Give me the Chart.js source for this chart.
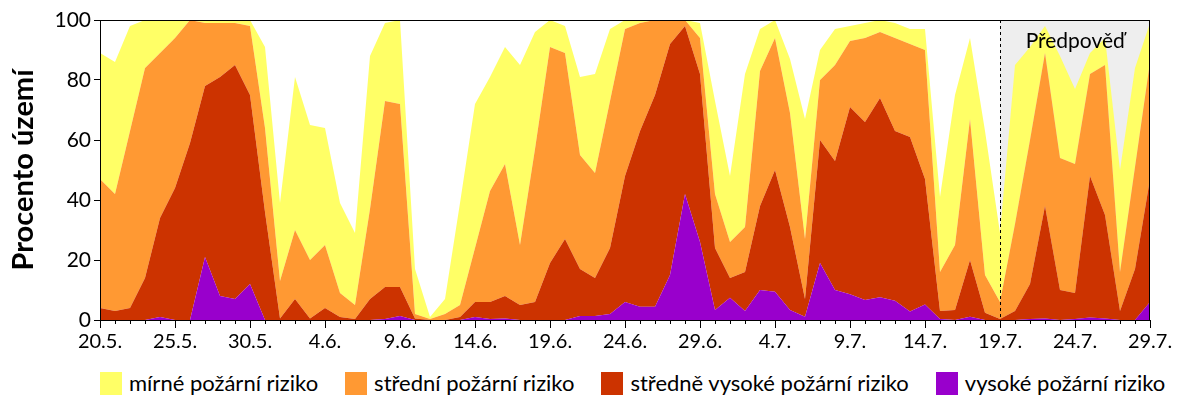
<!DOCTYPE html>
<html lang="cs">
<head>
<meta charset="utf-8">
<title>Požární riziko</title>
<script src="https://cdn.jsdelivr.net/npm/chart.js@4.4.1/dist/chart.umd.min.js"></script>
<style>
	html, body { margin: 0; padding: 0; background: #fff; }
	#wrap { position: relative; width: 1200px; height: 400px; font-family: Lato, sans-serif; }
	#chart-box { position: absolute; left: 0; top: 0; width: 1200px; height: 360px; }
	#legend { position: absolute; left: 100px; top: 371px; display: flex; gap: 27px; font-size: 22px; line-height: 24px; color: #000; }
	#legend .item { display: flex; align-items: center; }
	#legend .swatch { width: 22px; height: 23px; margin-right: 7px; }
</style>
</head>
<body>
<div id="wrap">
	<div id="chart-box"><canvas id="risk-chart"></canvas></div>
	<div id="legend"></div>
</div>
<script>
// dny 20.5. – 29.7.
const dny = [
	'20.5.', '21.5.', '22.5.', '23.5.', '24.5.', '25.5.', '26.5.', '27.5.', '28.5.', '29.5.', '30.5.', '31.5.',
	'1.6.', '2.6.', '3.6.', '4.6.', '5.6.', '6.6.', '7.6.', '8.6.', '9.6.', '10.6.', '11.6.', '12.6.', '13.6.',
	'14.6.', '15.6.', '16.6.', '17.6.', '18.6.', '19.6.', '20.6.', '21.6.', '22.6.', '23.6.', '24.6.', '25.6.',
	'26.6.', '27.6.', '28.6.', '29.6.', '30.6.',
	'1.7.', '2.7.', '3.7.', '4.7.', '5.7.', '6.7.', '7.7.', '8.7.', '9.7.', '10.7.', '11.7.', '12.7.', '13.7.',
	'14.7.', '15.7.', '16.7.', '17.7.', '18.7.', '19.7.', '20.7.', '21.7.', '22.7.', '23.7.', '24.7.', '25.7.',
	'26.7.', '27.7.', '28.7.', '29.7.',
];

// procento území v každé kategorii (od nejvyšší)
const vysoke = [
	0, 0, 0, 0, 1, 0, 0, 21, 8, 7,
	12, 0, 0, 0, 0, 0, 0, 0, 0, 0.3,
	1.3, 0, 0, 0, 0, 1, 0.3, 0.5, 0, 0,
	0, 0, 1.3, 1.3, 2, 6, 4.4, 4.4, 15, 42,
	26, 3.3, 7.4, 3, 10, 9.4, 3.3, 1.1, 19, 10,
	8.6, 6.7, 7.6, 6.4, 2.8, 5.2, 0.3, 0, 1.1, 0,
	0, 0, 0.3, 0.5, 0, 0.3, 0.8, 0.5, 0, 0, 6,
];
const stredneVysoke = [
	4, 3, 4, 14, 33, 44, 59, 57, 73, 78,
	63, 36, 0.5, 7, 0.5, 4, 1, 0.3, 7, 10.7,
	9.7, 0.5, 0, 0, 1, 5, 5.7, 7.5, 5, 6,
	19, 27, 15.7, 12.7, 22, 42, 58.6, 70.6, 77, 56,
	56, 20.7, 6.6, 13, 28, 40.6, 27.7, 5.9, 41, 43,
	62.4, 59.3, 66.4, 56.6, 58.2, 41.8, 2.7, 3.3, 18.9, 2.4,
	0.3, 3, 11.7, 37.5, 10, 8.7, 47.2, 34.5, 3, 17, 41,
];
const stredni = [
	43, 39, 59, 70, 55, 50, 41, 21, 18, 14,
	23, 28, 12.5, 23, 19.5, 21, 8, 4.7, 30, 62,
	61, 1.5, 0.3, 2, 4, 18, 37, 44, 20, 51,
	72, 62, 38, 35, 49, 49, 36, 25, 8, 2,
	12, 18, 12, 15, 45, 44, 38, 20, 20, 32,
	22, 28, 22, 31, 31, 43, 13, 21.7, 47, 12.6,
	5.7, 29, 48, 51, 44, 43, 34, 50, 13, 34, 39,
];
const mirne = [
	42, 44, 35, 16, 11, 6, 0, 1, 1, 1,
	2, 27, 26, 51, 45, 39, 30, 24, 51, 26,
	28, 15, 0.7, 5, 34, 48, 38, 39, 60, 39,
	9, 9, 26, 33, 24, 3, 1, 0, 0, 0,
	5, 31, 22, 51, 14, 6, 18, 40, 10, 12,
	5, 5, 4, 5, 5, 7, 25, 50, 27, 48,
	23, 53, 31, 9, 34, 25, 7, 9, 34, 33, 13,
];

const yTicks = [ 0, 20, 40, 60, 80, 100 ];
const zacatekPredpovedi = '19.7.';

const palette = {
	mirne: '#ffff66',
	stredni: '#ff9933',
	stredneVysoke: '#cc3300',
	vysoke: '#9900cc',
	forecast: '#eeeeee',
	ink: '#000000',
};

const fontFamily = 'Lato, sans-serif';

// pořadí vrstvení odspodu; legenda je obrácená
const series = [
	{ label: 'vysoké požární riziko', data: vysoke, color: palette.vysoke },
	{ label: 'středně vysoké požární riziko', data: stredneVysoke, color: palette.stredneVysoke },
	{ label: 'střední požární riziko', data: stredni, color: palette.stredni },
	{ label: 'mírné požární riziko', data: mirne, color: palette.mirne },
];

// ── šedé pozadí předpovědi, rámeček a drobné značky na ose x ──
const forecastPlugin = {
	id: 'forecast',
	beforeDatasetsDraw( chart ) {
		const { ctx, chartArea, scales } = chart;
		const x0 = scales.x.getPixelForValue( dny.indexOf( zacatekPredpovedi ) );
		ctx.save();
		ctx.fillStyle = palette.forecast;
		ctx.fillRect( x0, chartArea.top, chartArea.right - x0, chartArea.bottom - chartArea.top );
		ctx.restore();
	},
	afterDatasetsDraw( chart ) {
		const { ctx, chartArea, scales } = chart;
		const x0 = Math.round( scales.x.getPixelForValue( dny.indexOf( zacatekPredpovedi ) ) ) + 0.5;
		ctx.save();
		ctx.strokeStyle = palette.ink;
		ctx.lineWidth = 1;
		ctx.setLineDash( [ 3, 3 ] );
		ctx.beginPath();
		ctx.moveTo( x0, chartArea.top );
		ctx.lineTo( x0, chartArea.bottom );
		ctx.stroke();
		ctx.setLineDash( [] );

		ctx.fillStyle = palette.ink;
		ctx.font = '21px ' + fontFamily;
		ctx.textAlign = 'center';
		ctx.textBaseline = 'middle';
		ctx.fillText( 'Předpověď', ( x0 + chartArea.right ) / 2, chartArea.top + 21 );

		// rámeček
		ctx.strokeRect( chartArea.left + 0.5, chartArea.top + 0.5, chartArea.right - chartArea.left - 1, chartArea.bottom - chartArea.top );

		// krátké značky pro každý den
		ctx.beginPath();
		dny.forEach( ( d, i ) => {
			const x = Math.round( scales.x.getPixelForValue( i ) ) + 0.5;
			ctx.moveTo( x, chartArea.bottom );
			ctx.lineTo( x, chartArea.bottom + 4 );
		} );
		ctx.stroke();
		ctx.restore();
	},
};

new Chart( document.getElementById( 'risk-chart' ), {
	type: 'line',
	data: {
		labels: dny,
		datasets: series.map( ( s, i ) => ( {
			label: s.label,
			data: s.data,
			backgroundColor: s.color,
			borderColor: s.color,
			borderWidth: 0,
			pointRadius: 0,
			tension: 0,
			fill: i === 0 ? 'origin' : '-1',
		} ) ),
	},
	options: {
		responsive: true,
		maintainAspectRatio: false,
		animation: false,
		layout: { padding: { top: 20, right: 50, left: 0, bottom: 0 } },
		plugins: {
			legend: { display: false },
			tooltip: { enabled: false },
		},
		scales: {
			x: {
				grid: {
					drawOnChartArea: false,
					tickLength: 8,
					tickColor: ( ctx ) => ( ctx.index % 5 === 0 ? palette.ink : 'rgba(0,0,0,0)' ),
				},
				border: { color: palette.ink },
				ticks: {
					autoSkip: false,
					maxRotation: 0,
					color: palette.ink,
					font: { family: fontFamily, size: 20 },
					padding: 2,
					callback: ( v, i ) => ( i % 5 === 0 ? dny[ i ] : '' ),
				},
				afterFit: ( scale ) => { scale.height = 40; },
			},
			y: {
				stacked: true,
				min: 0,
				max: 100,
				afterBuildTicks: ( scale ) => { scale.ticks = yTicks.map( ( v ) => ( { value: v } ) ); },
				grid: { drawOnChartArea: false, tickLength: 6, tickColor: palette.ink },
				border: { color: palette.ink },
				ticks: {
					color: palette.ink,
					font: { family: fontFamily, size: 21 },
					padding: 3,
				},
				title: {
					display: true,
					text: 'Procento území',
					color: palette.ink,
					font: { family: fontFamily, size: 29, weight: 'bold' },
					padding: { top: 6, bottom: 0 },
				},
				afterFit: ( scale ) => { scale.width = 100; },
			},
		},
	},
	plugins: [ forecastPlugin ],
} );

// legenda v pořadí od mírného rizika
const legend = document.getElementById( 'legend' );
series.slice().reverse().forEach( ( s ) => {
	const item = document.createElement( 'div' );
	item.className = 'item';
	item.innerHTML = '<span class="swatch" style="background:' + s.color + '"></span><span>' + s.label + '</span>';
	legend.appendChild( item );
} );
</script>
</body>
</html>
